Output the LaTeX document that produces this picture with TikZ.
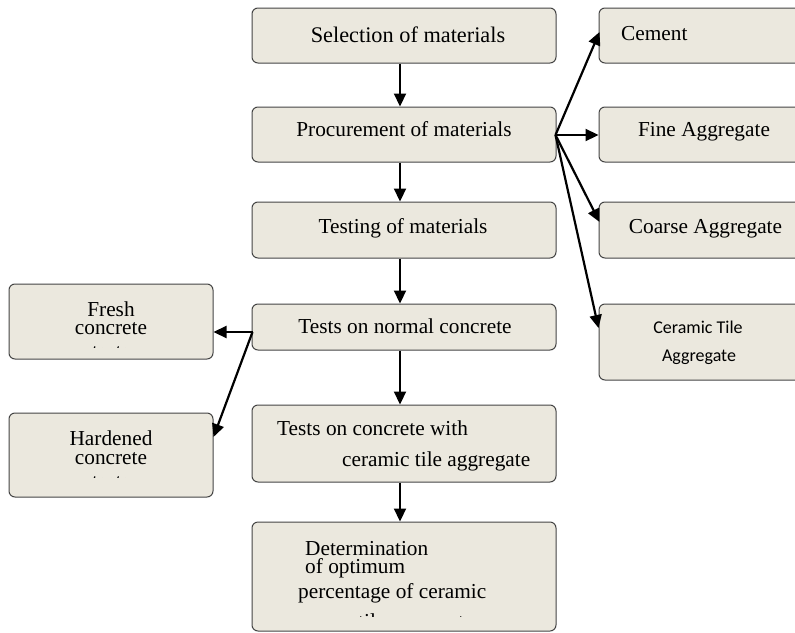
\documentclass[tikz,border=0pt]{standalone}
\usepackage{fontspec}
\setmainfont{Liberation Serif}
\newfontfamily\calibfont{Carlito}
\usetikzlibrary{arrows.meta,calc}
\definecolor{boxfill}{HTML}{EBE8DE}
\definecolor{boxline}{HTML}{454545}
\begin{document}
\begin{tikzpicture}[x=1pt,y=-1pt,
  box/.style={draw=boxline,line width=1pt,fill=boxfill,rounded corners=6pt,inner sep=0pt},
  txt/.style={anchor=base,inner sep=0pt,font=\fontsize{21.3}{21.3}\selectfont},
  txtl/.style={txt,anchor=base west},
  ctxt/.style={anchor=base,inner sep=0pt,font=\calibfont\fontsize{18}{18}\selectfont},
  arr/.style={-{Triangle[width=12pt,length=13pt]},line width=2.2pt,black}]
\clip (0,0) rectangle (795,632);
\fill[white] (0,0) rectangle (795,632);
% main column
\node[box,minimum width=304pt,minimum height=55pt] (b1) at (404,35.5) {};
\node[box,minimum width=304pt,minimum height=55pt] (b2) at (404,134.5) {};
\node[box,minimum width=304pt,minimum height=56pt] (b3) at (404,230) {};
\node[box,minimum width=304pt,minimum height=46pt] (b4) at (404,327) {};
\node[box,minimum width=304pt,minimum height=77pt] (b5) at (404,443.5) {};
\node[box,minimum width=304pt,minimum height=109pt] (b6) at (404,576.5) {};
% right column
\node[box,minimum width=207pt,minimum height=55pt] (r1) at (702.5,35.5) {};
\node[box,minimum width=207pt,minimum height=55pt] (r2) at (702.5,134.5) {};
\node[box,minimum width=207pt,minimum height=56pt] (r3) at (702.5,230) {};
\node[box,minimum width=207pt,minimum height=76pt] (r4) at (702.5,342) {};
% left column
\node[box,minimum width=204pt,minimum height=75pt] (l1) at (111,321.5) {};
\node[box,minimum width=204pt,minimum height=84pt] (l2) at (111,455) {};
% texts main
\node[txt] (t1) at (408,42.7) {\fontsize{22.3}{22.3}\selectfont Selection of materials};
\node[txt] (t2) at (404,136.7) {Procurement of materials};
\node[txt] (t3) at (403,233.3) {Testing of materials};
\node[txt] (t4) at (405,333.3) {Tests on normal concrete};
\node[txtl] (t5a) at (277,435.7) {Tests on concrete with};
\node[txtl] (t5b) at (342,466) {ceramic tile aggregate};
\node[txtl] (t6a) at (305,555) {Determination};
\node[txtl] (t6b) at (305,573) {of optimum};
\node[txtl] (t6c) at (298,598.3) {percentage of ceramic};
\begin{scope}
\clip (250,520) rectangle (560,616.5);
\node[txtl] (t6d) at (358,628) {tile aggregate};
\end{scope}
% texts right
\node[txtl] (s1) at (621,40) {Cement};
\node[txt] (s2) at (704,136.7) {Fine Aggregate};
\node[txt] (s3) at (705.5,233.3) {Coarse Aggregate};
\node[ctxt] (s4a) at (698,333) {Ceramic Tile};
\node[ctxt] (s4b) at (699,361.7) {Aggregate};
% texts left
\node[txt] (f1) at (111,316) {Fresh};
\node[txt] (f2) at (111,334) {concrete};
\begin{scope}
\clip (0,280) rectangle (220,347.5);
\node[txt] (f3) at (111,358.5) {tests};
\end{scope}
\node[txt] (h1) at (111,445) {Hardened};
\node[txt] (h2) at (111,464) {concrete};
\begin{scope}
\clip (0,410) rectangle (220,477.5);
\node[txt] (h3) at (111,488.5) {tests};
\end{scope}
% vertical arrows
\draw[arr] ($(b1.south)+(-4,0)$) -- ($(b2.north)+(-4,0)$);
\draw[arr] ($(b2.south)+(-4,0)$) -- ($(b3.north)+(-4,0)$);
\draw[arr] ($(b3.south)+(-4,0)$) -- ($(b4.north)+(-4,0)$);
\draw[arr] ($(b4.south)+(-4,0)$) -- ($(b5.north)+(-4,0)$);
\draw[arr] ($(b5.south)+(-4,0)$) -- ($(b6.north)+(-4,0)$);
% fan to right
\coordinate (p) at ($(b2.east)+(-1,0.5)$);
\draw[arr] (p) -- ($(r1.west)+(1,-3.5)$);
\draw[arr] (p) -- (r2.west |- p);
\draw[arr] (p) -- ($(r3.west)+(1,-8)$);
\draw[arr] (p) -- ($(r4.west)+(0,-14)$);
% fan to left
\coordinate (q) at ($(b4.west)+(1,5)$);
\draw[arr] (q) -- (l1.east |- q);
\draw[arr] (q) -- ($(l2.east)+(0,-18)$);
\end{tikzpicture}
\end{document}
